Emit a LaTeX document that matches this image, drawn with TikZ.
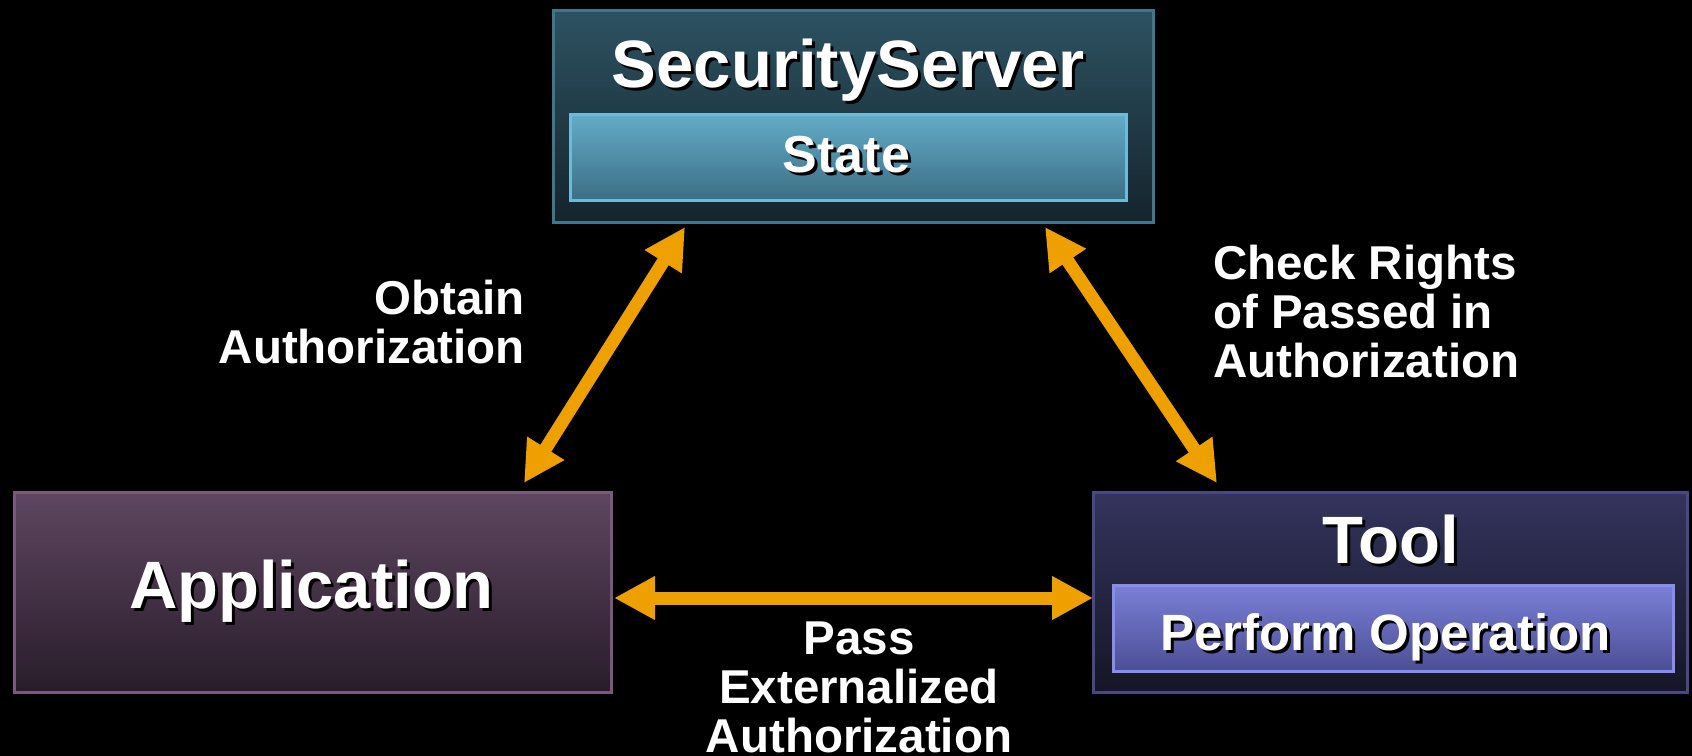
\documentclass[tikz,border=0pt]{standalone}
\usepackage{fontspec}
\setmainfont{Liberation Sans}
\usetikzlibrary{arrows.meta}
\definecolor{arrowc}{HTML}{EDA000}
\definecolor{ssTop}{HTML}{2D5262}
\definecolor{ssBot}{HTML}{15242D}
\definecolor{ssLine}{HTML}{40768A}
\definecolor{stTop}{HTML}{62ACC8}
\definecolor{stBot}{HTML}{3C6E84}
\definecolor{stLine}{HTML}{6EBAD8}
\definecolor{apTop}{HTML}{5E4660}
\definecolor{apBot}{HTML}{281C2A}
\definecolor{apLine}{HTML}{7A5A7C}
\definecolor{tlTop}{HTML}{34345E}
\definecolor{tlBot}{HTML}{151526}
\definecolor{tlLine}{HTML}{484884}
\definecolor{poTop}{HTML}{7A80D8}
\definecolor{poBot}{HTML}{4C4E94}
\definecolor{poLine}{HTML}{878DEA}
\newcommand\shadtext[1]{\rlap{\kern3pt\raisebox{-3pt}{\color{black}#1}}{\color{white}#1}}
\tikzset{
  box/.style={rectangle, inner sep=0pt, line width=3pt, shading=axis},
  title/.style={inner sep=0pt, anchor=base, font=\bfseries},
  lbl/.style={inner sep=0pt, text=white, font=\bfseries\fontsize{47.5}{49}\selectfont},
  arr/.style={line width=13pt, draw=arrowc, {Triangle[length=41pt,width=41pt]}-{Triangle[length=41pt,width=41pt]}}
}
\begin{document}
\begin{tikzpicture}[x=1pt,y=-1pt]
\useasboundingbox (0,0) rectangle (1692,755);
\fill[black] (-1,-1) rectangle (1693,756);
% boxes
\node[box, draw=ssLine, top color=ssTop, bottom color=ssBot, minimum width=600pt, minimum height=212pt] (ss) at (853.5,116.5) {};
\node[box, draw=stLine, top color=stTop, bottom color=stBot, minimum width=556pt, minimum height=86pt] (st) at (848.5,157.5) {};
\node[box, draw=apLine, top color=apTop, bottom color=apBot, minimum width=597pt, minimum height=200pt] (app) at (313,592.5) {};
\node[box, draw=tlLine, top color=tlTop, bottom color=tlBot, minimum width=594pt, minimum height=200pt] (tool) at (1390.5,592.5) {};
\node[box, draw=poLine, top color=poTop, bottom color=poBot, minimum width=560pt, minimum height=86pt] (po) at (1393.5,628) {};
% titles
\node[title, font=\bfseries\fontsize{67}{70}\selectfont] (sst) at (848.5,87) {\shadtext{SecurityServer}};
\node[title, font=\bfseries\fontsize{52}{55}\selectfont] (stt) at (846.5,172) {\shadtext{State}};
\node[title, font=\bfseries\fontsize{67}{70}\selectfont] (appt) at (311.5,608) {\shadtext{Application}};
\node[title, font=\bfseries\fontsize{67}{70}\selectfont] (toolt) at (1390.5,563) {\shadtext{Tool}};
\node[title, font=\bfseries\fontsize{51}{53}\selectfont] (pot) at (1385.5,650) {\shadtext{Perform Operation}};
% labels (base = baseline of last line)
\node[lbl, align=right, anchor=base east] (l1) at (525,363) {Obtain\\Authorization};
\node[lbl, align=left, anchor=base west] (l2) at (1213,377) {Check Rights\\of Passed in\\Authorization};
\node[lbl, align=center, anchor=base] (l3) at (859,752) {Pass\\Externalized\\Authorization};
% arrows
\draw[arr] ([xshift=511pt,yshift=8pt]app.north west) -- ([xshift=133pt,yshift=-3pt]ss.south west);
\draw[arr] ([xshift=493pt,yshift=-3pt]ss.south west) -- ([xshift=125pt,yshift=8pt]tool.north west);
\draw[arr] ([xshift=1pt,yshift=-5.5pt]app.east) -- ([xshift=1pt,yshift=-5.5pt]tool.west);
\end{tikzpicture}
\end{document}
